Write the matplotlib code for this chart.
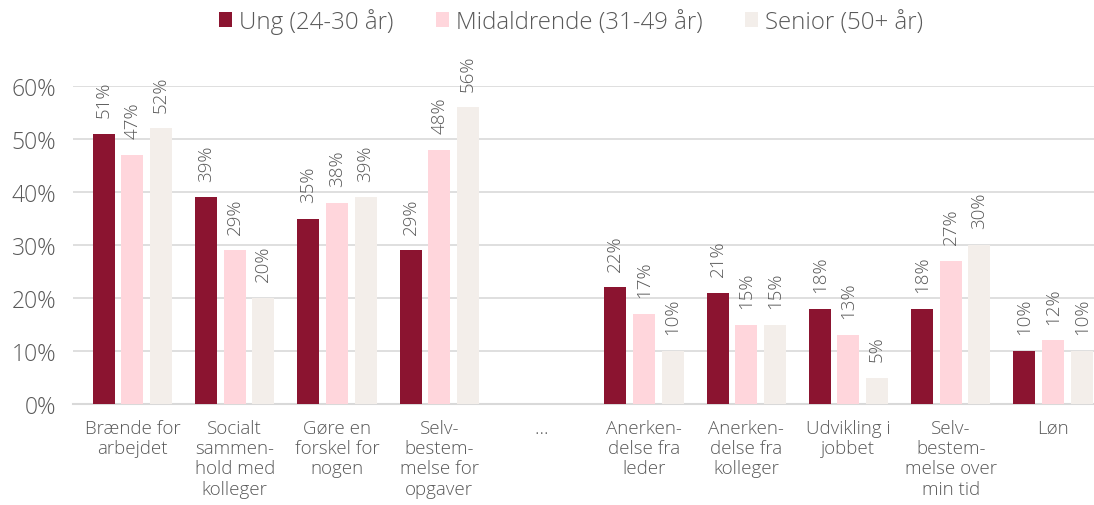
import matplotlib
matplotlib.use("Agg")
import matplotlib.pyplot as plt
import numpy as np

categories = ["Brænde for\narbejdet", "Socialt\nsammen-\nhold med\nkolleger", "Gøre en\nforskel for\nnogen",
              "Selv-\nbestem-\nmelse for\nopgaver", "…", "Anerken-\ndelse fra\nleder", "Anerken-\ndelse fra\nkolleger",
              "Udvikling i\njobbet", "Selv-\nbestem-\nmelse over\nmin tid", "Løn"]
series_names = ["Ung (24-30 år)", "Midaldrende (31-49 år)", "Senior (50+ år)"]
ung = [51, 39, 35, 29, None, 22, 21, 18, 18, 10]
midaldrende = [47, 29, 38, 48, None, 17, 15, 13, 27, 12]
senior = [52, 20, 39, 56, None, 10, 15, 5, 30, 10]
yticks = [0, 10, 20, 30, 40, 50, 60]

colors = ["#8B1430", "#FFD6DC", "#F3EEEA"]
text_color = "#595959"

plt.rcParams['font.family'] = ['Open Sans', 'DejaVu Sans']
plt.rcParams['font.weight'] = 'light'

fig = plt.figure(figsize=(10.94, 5.06), dpi=100)
ax = fig.add_axes([73/1094, (506-405)/506, (1094-73)/1094, (405-87)/506])

x = np.arange(len(categories))
width = 0.215
offsets = [-0.28, 0, 0.28]
for s, (vals, col, name) in enumerate(zip([ung, midaldrende, senior], colors, series_names)):
    xs = [xi + offsets[s] for xi, v in zip(x, vals) if v is not None]
    vs = [v / 100 for v in vals if v is not None]
    ax.bar(xs, vs, width=width, color=col, label=name, zorder=3)
    for xi, v in zip(xs, vs):
        ax.annotate(f"{round(v*100)}%", (xi, v), xytext=(0, 12), textcoords="offset points",
                    rotation=90, ha="center", va="bottom", fontsize=13.5, color=text_color,
                    annotation_clip=False)

ax.set_ylim(0, 0.6)
ax.set_xlim(-0.58, 9.4)
ax.set_yticks([t / 100 for t in yticks])
ax.set_yticklabels([f"{t}%" for t in yticks], fontsize=16.5, color=text_color)
ax.set_xticks(x)
ax.set_xticklabels(categories, fontsize=13.5, color=text_color, linespacing=1.15, va="top")
ax.tick_params(axis="both", length=0)
ax.tick_params(axis="y", pad=12)
ax.tick_params(axis="x", pad=11)
ax.grid(axis="y", color="#D9D9D9", linewidth=1.2, zorder=0)
for sp in ["top", "right", "left"]:
    ax.spines[sp].set_visible(False)
ax.spines["bottom"].set_color("#D9D9D9")
ax.spines["bottom"].set_linewidth(1.5)

fig.legend(loc="upper center", bbox_to_anchor=(0.522, 1.025), ncol=3, frameon=False,
           fontsize=17.3, handlelength=0.55, handleheight=0.55, handletextpad=0.3,
           columnspacing=1.75, labelcolor=text_color)

fig.savefig("out.png", dpi=100)
